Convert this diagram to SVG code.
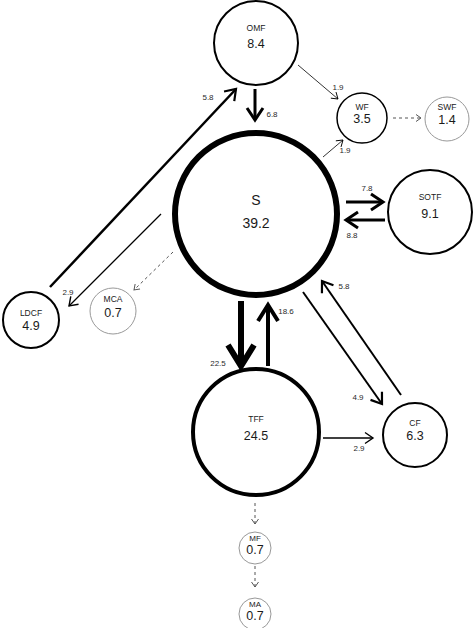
<svg xmlns="http://www.w3.org/2000/svg" width="474" height="628" viewBox="0 0 474 628">
<style>
.n{fill:#fff;stroke:#000}
.g{fill:#fff;stroke:#999;stroke-width:1}
.t{font-family:"Liberation Sans",Arial,sans-serif;text-anchor:middle;fill:#1a1a1a}
.nm{font-size:8.5px}
.v{font-size:12.5px}
.el{font-family:"Liberation Sans",Arial,sans-serif;font-size:8px;fill:#2a2a2a;text-anchor:middle}
.e{stroke:#000;fill:none}
.d{stroke:#555;fill:none;stroke-width:1;stroke-dasharray:3,3}
</style>
<defs>
<marker id="mThin" markerUnits="userSpaceOnUse" markerWidth="10" markerHeight="10" refX="6" refY="4" orient="auto" overflow="visible"><path d="M0,0 L6,4 L0,8" fill="none" stroke="#000" stroke-width="0.9"/></marker>
<marker id="mDash" markerUnits="userSpaceOnUse" markerWidth="10" markerHeight="10" refX="5" refY="3.5" orient="auto" overflow="visible"><path d="M0,0 L5,3.5 L0,7" fill="none" stroke="#555" stroke-width="1"/></marker>
<marker id="mSm" markerUnits="userSpaceOnUse" markerWidth="14" markerHeight="14" refX="8" refY="5.5" orient="auto" overflow="visible"><path d="M0,0 L8,5.5 L0,11" fill="none" stroke="#000" stroke-width="1.4"/></marker>
<marker id="mMed" markerUnits="userSpaceOnUse" markerWidth="16" markerHeight="16" refX="10" refY="7" orient="auto" overflow="visible"><path d="M0,0 L10,7 L0,14" fill="none" stroke="#000" stroke-width="2.2"/></marker>
<marker id="m3" markerUnits="userSpaceOnUse" markerWidth="18" markerHeight="18" refX="12" refY="8" orient="auto" overflow="visible"><path d="M0,0 L12,8 L0,16" fill="none" stroke="#000" stroke-width="3"/></marker>
<marker id="m4" markerUnits="userSpaceOnUse" markerWidth="24" markerHeight="24" refX="16" refY="10" orient="auto" overflow="visible"><path d="M0,0 L16,10 L0,20" fill="none" stroke="#000" stroke-width="4"/></marker>
<marker id="m6" markerUnits="userSpaceOnUse" markerWidth="30" markerHeight="30" refX="21" refY="13" orient="auto" overflow="visible"><path d="M0,0 L21,13 L0,26" fill="none" stroke="#000" stroke-width="6"/></marker>
</defs>

<g id="connectors">
<line class="e" x1="50" y1="287" x2="236" y2="89" stroke-width="2.5" marker-end="url(#mMed)"/>
<text class="el" x="208" y="100">5.8</text>
<line class="e" x1="255" y1="89" x2="255" y2="120" stroke-width="3" marker-end="url(#m3)"/>
<text class="el" x="272" y="117">6.8</text>
<line class="e" x1="298" y1="65" x2="338" y2="99" stroke-width="0.8" marker-end="url(#mThin)"/>
<text class="el" x="338" y="90">1.9</text>
<line class="e" x1="323" y1="157" x2="343" y2="140" stroke-width="0.8" marker-end="url(#mThin)"/>
<text class="el" x="345" y="153">1.9</text>
<line class="d" x1="393" y1="118" x2="421" y2="118" marker-end="url(#mDash)"/>
<line class="e" x1="346" y1="202" x2="383" y2="202" stroke-width="3" marker-end="url(#m3)"/>
<text class="el" x="367" y="191">7.8</text>
<line class="e" x1="385" y1="220" x2="346" y2="220" stroke-width="3" marker-end="url(#m3)"/>
<text class="el" x="352" y="238">8.8</text>
<line class="e" x1="161" y1="214" x2="69" y2="306" stroke-width="1.3" marker-end="url(#mSm)"/>
<text class="el" x="68" y="295">2.9</text>
<line class="d" x1="173" y1="252" x2="134" y2="290" marker-end="url(#mDash)"/>
<line class="e" x1="241" y1="301" x2="241" y2="366" stroke-width="6" marker-end="url(#m6)"/>
<text class="el" x="218" y="366">22.5</text>
<line class="e" x1="268" y1="366" x2="268" y2="305" stroke-width="4" marker-end="url(#m4)"/>
<text class="el" x="286" y="314">18.6</text>
<line class="e" x1="303" y1="292" x2="382" y2="404" stroke-width="2" marker-end="url(#mMed)"/>
<text class="el" x="358" y="400">4.9</text>
<line class="e" x1="401" y1="395" x2="322" y2="281" stroke-width="2" marker-end="url(#mMed)"/>
<text class="el" x="344" y="289">5.8</text>
<line class="e" x1="323" y1="438" x2="373" y2="438" stroke-width="1.3" marker-end="url(#mSm)"/>
<text class="el" x="359" y="451">2.9</text>
<line class="d" x1="255" y1="503" x2="255" y2="524" marker-end="url(#mDash)"/>
<line class="d" x1="255" y1="566" x2="255" y2="587" marker-end="url(#mDash)"/>
</g>

<g id="OMF"><circle class="n" cx="256" cy="43" r="42" stroke-width="2"/><text class="t nm" x="256" y="31">OMF</text><text class="t v" x="256" y="48">8.4</text></g>
<g id="WF"><circle class="n" cx="362" cy="118" r="25" stroke-width="1.5"/><text class="t nm" x="362" y="110">WF</text><text class="t v" x="362" y="123">3.5</text></g>
<g id="SWF"><circle class="g" cx="447" cy="119" r="22"/><text class="t nm" x="447" y="110">SWF</text><text class="t v" x="447" y="124">1.4</text></g>
<g id="S"><circle class="n" cx="256" cy="214" r="81" stroke-width="6"/><text class="t" font-size="14" x="256" y="205">S</text><text class="t" font-size="14" x="256" y="228">39.2</text></g>
<g id="SOTF"><circle class="n" cx="430" cy="212" r="42" stroke-width="2"/><text class="t nm" x="430" y="200">SOTF</text><text class="t v" x="430" y="218">9.1</text></g>
<g id="LDCF"><circle class="n" cx="31" cy="320" r="28" stroke-width="2"/><text class="t nm" x="31" y="316">LDCF</text><text class="t v" x="31" y="330">4.9</text></g>
<g id="MCA"><circle class="g" cx="113" cy="311" r="23"/><text class="t nm" x="113" y="302">MCA</text><text class="t v" x="113" y="317">0.7</text></g>
<g id="TFF"><circle class="n" cx="256" cy="432" r="63" stroke-width="4"/><text class="t nm" x="256" y="422">TFF</text><text class="t v" font-size="13.5" x="256" y="440">24.5</text></g>
<g id="CF"><circle class="n" cx="415" cy="435" r="32" stroke-width="2"/><text class="t nm" x="415" y="426">CF</text><text class="t v" x="415" y="440">6.3</text></g>
<g id="MF"><circle class="g" cx="255" cy="548" r="16"/><text class="t" font-size="8" x="255" y="541">MF</text><text class="t v" x="255" y="554">0.7</text></g>
<g id="MA"><circle class="g" cx="255" cy="614" r="16"/><text class="t" font-size="8" x="255" y="607">MA</text><text class="t v" x="255" y="620">0.7</text></g>
</svg>
